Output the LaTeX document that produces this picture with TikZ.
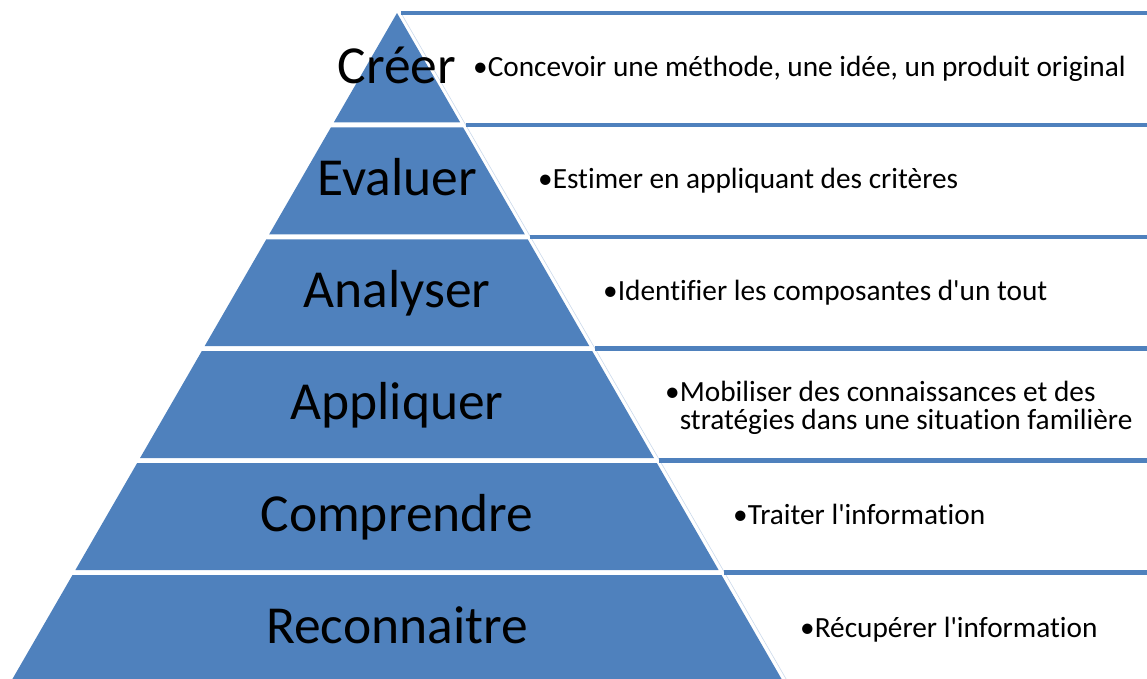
\documentclass[tikz,border=0pt]{standalone}
\usepackage{fontspec}
\setmainfont{Carlito}[Ligatures={TeXOff,CommonOff}]
\definecolor{pyrblue}{HTML}{4F81BD}
\tikzset{
  layer/.style={fill=pyrblue},
  bandline/.style={draw=pyrblue,line width=4.5pt},
  levellabel/.style={anchor=base,inner sep=0pt,font=\fontsize{53.5}{60}\selectfont},
  leveltext/.style={anchor=base west,inner sep=0pt,align=left,font=\fontsize{29.3}{27.5}\selectfont},
}
\begin{document}
\begin{tikzpicture}[x=1pt,y=-1pt]
\clip (0,0) rectangle (1147,678);
% pyramid
\fill[layer] (397,13)--(460.2,122.4)--(333.8,122.4)--cycle;
\fill[layer] (330.9,127.4)--(463.1,127.4)--(524.8,234.3)--(269.2,234.3)--cycle;
\fill[layer] (266.3,239.3)--(527.7,239.3)--(589.4,346.2)--(204.6,346.2)--cycle;
\fill[layer] (201.7,351.2)--(592.3,351.2)--(654.0,458.1)--(140.0,458.1)--cycle;
\fill[layer] (137.1,463.1)--(656.9,463.1)--(718.6,570.0)--(75.4,570.0)--cycle;
\fill[layer] (72.5,575.0)--(721.5,575.0)--(784.7,684.4)--(9.3,684.4)--cycle;
% text bands
\draw[pyrblue!30,line width=0.6pt] (401,13)--(789,684);
\draw[bandline] (401,13)--(1147,13);
\draw[bandline] (465.6,124.9)--(1147,124.9);
\draw[bandline] (530.2,236.8)--(1147,236.8);
\draw[bandline] (594.8,348.7)--(1147,348.7);
\draw[bandline] (659.4,460.6)--(1147,460.6);
\draw[bandline] (724.0,572.5)--(1147,572.5);
% levels
\node[levellabel] (creer) at (397,83) {Créer};
\node[levellabel] (evaluer) at (397,195) {Evaluer};
\node[levellabel] (analyser) at (397,307) {Analyser};
\node[levellabel] (appliquer) at (397,419) {Appliquer};
\node[levellabel] (comprendre) at (397,531) {Comprendre};
\node[levellabel] (reconnaitre) at (397,643) {Reconnaitre};
% descriptions
\node[leveltext] (creerTxt) at (473,76) {•Concevoir une méthode, une idée, un produit original};
\node[leveltext] (evaluerTxt) at (538,188) {•Estimer en appliquant des critères};
\node[leveltext] (analyserTxt) at (603,300) {•Identifier les composantes d'un tout};
\node[leveltext] (appliquerTxt) at (665,429) {•Mobiliser des connaissances et des\\\hphantom{•}stratégies dans une situation familière};
\node[leveltext] (comprendreTxt) at (733,524) {•Traiter l'information};
\node[leveltext] (reconnaitreTxt) at (800,637) {•Récupérer l'information};
\end{tikzpicture}
\end{document}
